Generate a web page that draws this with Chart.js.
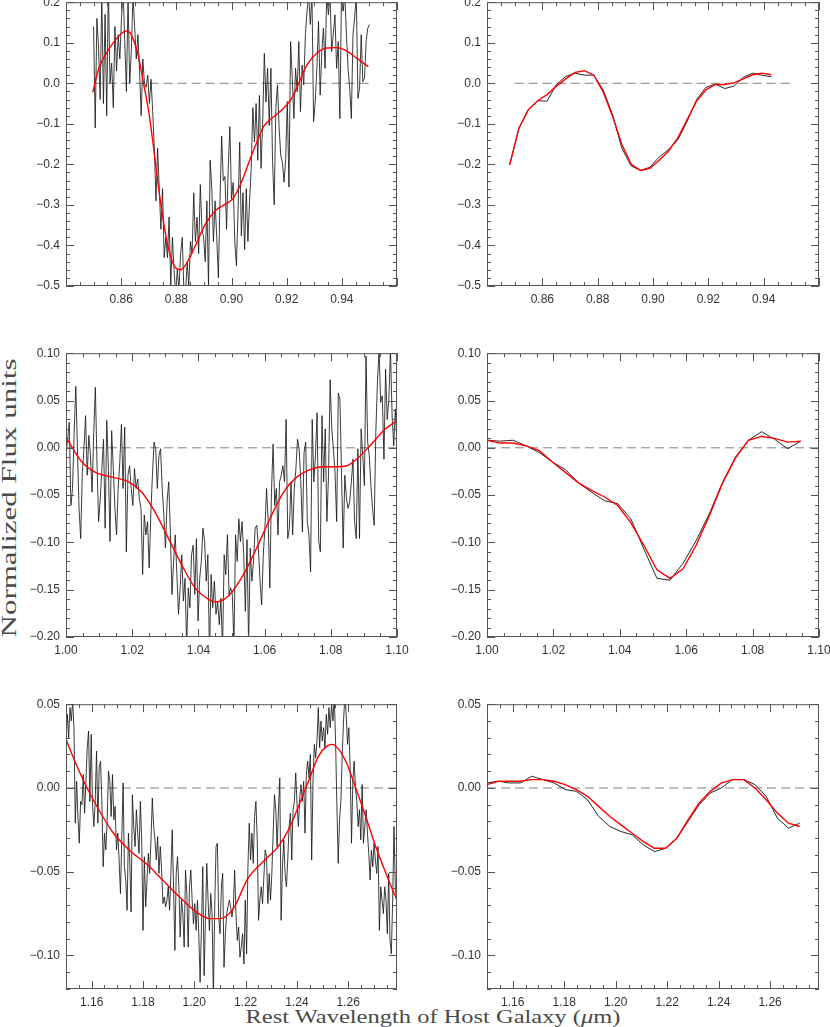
<!DOCTYPE html>
<html lang="en">
<head>
<meta charset="UTF-8">
<title>Normalized Flux Profiles</title>
<script src="https://cdn.jsdelivr.net/npm/chart.js"></script>
<style>
  body { margin: 0; background: #fff; width: 830px; height: 1027px; overflow: hidden; position: relative; }
  canvas { position: absolute; }
  .title { position: absolute; font-family: "Liberation Serif", "DejaVu Serif", serif; color: #4a4a4a; white-space: nowrap; }
</style>
</head>
<body>
<div id="ytitle" class="title" style="font-size:20px;line-height:20px">Normalized Flux units</div>
<div id="xtitle" class="title" style="font-size:19px;line-height:19px">Rest Wavelength of Host Galaxy (<i>&mu;</i>m)</div>
<script>
// ---- top row (0.85 - 0.95 um) ----
const topNoisyRange = [0.85, 0.95];
const topNoisyFlux = [
  0.14, -0.11, 0.16, 0.09, -0.04, 0.22, -0.05, 0.17, -0.08, 0.24,
  0.0, 0.05, -0.06, 0.14, 0.03, 0.12, 0.06, 0.16, 0.23, 0.1,
  -0.02, 0.21, 0.0, 0.08, 0.22, 0.14, 0.06, 0.12, 0.03, -0.08,
  0.06, 0.0, -0.01, 0.02, -0.05, 0.01, -0.07, -0.16,
  -0.29, -0.16, -0.26, -0.36, -0.26, -0.43, -0.38, -0.43, -0.33, -0.5,
  -0.38, -0.46, -0.52, -0.46, -0.51, -0.42, -0.38, -0.51, -0.52, -0.44,
  -0.5, -0.39, -0.42, -0.27, -0.39, -0.33, -0.42, -0.25, -0.36, -0.38,
  -0.44, -0.29, -0.5, -0.19, -0.26, -0.39, -0.29, -0.38, -0.48, -0.29,
  -0.13, -0.24, -0.23, -0.36, -0.21,
  -0.107, -0.285, -0.245, -0.39, -0.45, -0.31, -0.145, -0.376, -0.27, -0.41,
  -0.26, -0.39, -0.29, -0.21, -0.06, -0.145, -0.05, -0.19, -0.03, -0.21,
  -0.095, 0.074, -0.046, 0.037, -0.104, 0.037, -0.19, -0.30, -0.062, -0.004,
  -0.11, -0.178, -0.195, -0.244, -0.186, -0.045, -0.256, 0.103, 0.012, -0.087,
  0.037, -0.021, 0.103, -0.07, 0.045, -0.004, 0.12, 0.178, 0.22, 0.145,
  0.22, -0.095, -0.045, 0.037, 0.153, -0.029, 0.078, 0.136, 0.037, 0.22,
  0.169, 0.22, 0.078, 0.12, 0.169, 0.037, 0.103, -0.087, 0.22, 0.178,
  0.22, 0.12, 0.037, -0.012, -0.087, 0.12, 0.161, 0.22, -0.037, -0.012,
  0.12, 0.004, 0.012, 0.103, 0.136, 0.145
];
const topFitLambda = [0.8497, 0.8519, 0.8543, 0.8579, 0.8603, 0.8618, 0.8633, 0.8651, 0.8664, 0.8681,
  0.8700, 0.8718, 0.8736, 0.8754, 0.8772, 0.8797, 0.8815, 0.8839, 0.8869, 0.8906,
  0.8942, 0.8978, 0.9002, 0.9031, 0.9068, 0.9092, 0.9116, 0.9152, 0.9188, 0.9218,
  0.9249, 0.9273, 0.9309, 0.9345, 0.9381, 0.9417, 0.9454, 0.9496];
const topFitFlux = [-0.022, 0.037, 0.07, 0.107, 0.124, 0.129, 0.124, 0.095, 0.062, 0.0,
  -0.07, -0.161, -0.26, -0.343, -0.409, -0.455, -0.46, -0.442, -0.40, -0.347,
  -0.314, -0.298, -0.287, -0.252, -0.186, -0.145, -0.107, -0.083, -0.062, -0.037,
  0.008, 0.045, 0.074, 0.087, 0.088, 0.08, 0.062, 0.041];
const topBinRange = [0.8482, 0.9428];
const topBinFlux = [-0.2, -0.11, -0.065, -0.043, -0.044, -0.003, 0.017, 0.025, 0.02, 0.02,
  -0.016, -0.077, -0.16, -0.204, -0.215, -0.207, -0.182, -0.163, -0.139, -0.093,
  -0.04, -0.01, -0.002, -0.013, -0.007, 0.015, 0.025, 0.02, 0.016];
const topBinFit = [-0.202, -0.11, -0.065, -0.043, -0.028, -0.007, 0.011, 0.027, 0.031, 0.02,
  -0.021, -0.081, -0.151, -0.2, -0.215, -0.21, -0.19, -0.167, -0.134, -0.089,
  -0.044, -0.016, -0.003, -0.003, 0.001, 0.011, 0.021, 0.025, 0.021];
const topXTicks = [0.86, 0.88, 0.90, 0.92, 0.94];
const topYTicks = [-0.5, -0.4, -0.3, -0.2, -0.1, 0.0, 0.1, 0.2];

// ---- middle row (1.00 - 1.10 um) ----
const midNoisyRange = [1.00, 1.10];
const midNoisyFlux = [
  -0.008, 0.009, 0.027, -0.061, -0.043, 0.016, 0.065, -0.001, -0.064, -0.096,
  -0.026, -0.001, 0.034, -0.029, 0.013, -0.008, -0.047, 0.016, 0.064, -0.015,
  -0.078, -0.054, -0.022, 0.009, -0.085, 0.029, -0.022, -0.099, 0.018, -0.022,
  -0.064, -0.092, -0.043, -0.015, 0.025, -0.043, 0.022, -0.11, -0.029, -0.019,
  -0.043, -0.061, -0.022, -0.043, -0.033, -0.054, -0.064, -0.134, -0.071, -0.092,
  -0.078, -0.127, -0.071, -0.029, 0.006, -0.001, -0.043, -0.008, -0.001, -0.043,
  -0.071, -0.106, -0.057, -0.036, -0.089, -0.155, -0.12, -0.092, -0.134, -0.176,
  -0.148, -0.113, -0.162, -0.138, -0.21, -0.148, -0.169, -0.113, -0.103, -0.155,
  -0.096, -0.183, -0.138, -0.12, -0.085, -0.099, -0.141, -0.113, -0.22, -0.134,
  -0.169, -0.141, -0.176, -0.162, -0.187, -0.159, -0.215, -0.113, -0.134, -0.092,
  -0.155, -0.148,
  -0.155, -0.21, -0.092, -0.12, -0.075, -0.099, -0.078, -0.113, -0.173, -0.097,
  -0.21, -0.106, -0.141, -0.12, -0.085, -0.082, -0.106, -0.141, -0.166, -0.113,
  -0.085, -0.043, -0.078, -0.148, -0.047, 0.004, -0.061, -0.043, -0.092, -0.036,
  -0.029, -0.019, -0.036, 0.03, -0.096, -0.085, -0.036, -0.092, -0.043, -0.022,
  0.009, -0.001, -0.036, -0.089, -0.005, 0.006, -0.078, -0.092, -0.131, 0.03,
  -0.036, -0.008, 0.037, -0.099, -0.11, 0.034, -0.036, 0.02, -0.078, -0.029,
  0.072, 0.02, -0.001, -0.026, -0.078, 0.058, 0.051, -0.029, -0.106, -0.029,
  -0.054, -0.064, -0.057, -0.036, -0.012, -0.078, -0.096, -0.001, -0.096, 0.02,
  -0.008, -0.04, 0.097, 0.006, -0.008, -0.04, -0.064, -0.082, 0.016, 0.069,
  0.104, 0.048, 0.055, -0.012, 0.083, 0.03, 0.051, 0.104, 0.034, 0.002,
  0.041, 0.002
];
const midFitLambda = [1.0, 1.0048, 1.0089, 1.0139, 1.0189, 1.0229, 1.0269, 1.031, 1.035, 1.039,
  1.043, 1.045, 1.049, 1.0536, 1.0576, 1.0616, 1.0657, 1.0697, 1.0737, 1.0778,
  1.0818, 1.0848, 1.0878, 1.0918, 1.0959, 1.1];
const midFitFlux = [0.011, -0.015, -0.026, -0.031, -0.036, -0.047, -0.068, -0.096, -0.124, -0.148,
  -0.16, -0.163, -0.157, -0.134, -0.106, -0.075, -0.047, -0.031, -0.023, -0.02,
  -0.02, -0.019, -0.012, 0.002, 0.018, 0.029];
const midBinRange = [1.0, 1.0945];
const midBinFlux = [0.008, 0.007, 0.008, 0.002, -0.005, -0.015, -0.023, -0.037, -0.047, -0.056,
  -0.059, -0.075, -0.107, -0.138, -0.14, -0.122, -0.098, -0.07, -0.037, -0.01,
  0.008, 0.017, 0.009, -0.001, 0.007];
const midBinFit = [0.008, 0.005, 0.005, 0.002, -0.003, -0.015, -0.026, -0.037, -0.045, -0.052,
  -0.061, -0.079, -0.103, -0.129, -0.138, -0.128, -0.103, -0.072, -0.038, -0.011,
  0.008, 0.012, 0.01, 0.006, 0.007];
const midXTicks = [1.00, 1.02, 1.04, 1.06, 1.08, 1.10];
const midYTicks = [-0.20, -0.15, -0.10, -0.05, 0.00, 0.05, 0.10];

// ---- bottom row (1.15 - 1.28 um) ----
const botNoisyRange = [1.15, 1.2799];
const botNoisyFlux = [
  0.028, 0.044, 0.030, 0.048, 0.04, 0.052, 0.036, -0.021, 0.004, -0.017,
  -0.033, -0.008, -0.01, 0.008, -0.015, 0.004, 0.024, 0.034, -0.008, 0.032,
  -0.011, -0.023, -0.008, 0.022, -0.021, 0.012, 0.016, -0.008, -0.047, -0.027,
  -0.037, -0.019, 0.01, 0.004, -0.017, 0.008, -0.019, -0.011, -0.037, -0.027,
  -0.043, -0.063, -0.031, 0.003, -0.047, -0.055, -0.073, -0.027, -0.043, -0.074,
  -0.004, -0.023, -0.035, -0.013, -0.027, -0.039, -0.008, -0.031, -0.085, -0.041,
  -0.071, -0.055, -0.039, -0.051, -0.031, -0.006, -0.023, -0.031, -0.043, -0.029,
  -0.051, -0.035, -0.049, -0.069, -0.065, -0.071, -0.067, -0.059, -0.073, -0.051,
  -0.025, -0.059, -0.097, -0.051, -0.041, -0.059, -0.089, -0.067, -0.075, -0.095,
  -0.049, -0.063, -0.095, -0.059, -0.049, -0.067, -0.081, -0.069, -0.085, -0.067,
  -0.087, -0.116, -0.083, -0.047, -0.112, -0.079, -0.045, -0.067, -0.085, -0.063,
  -0.075, -0.125, -0.071, -0.035, -0.033, -0.077, -0.087, -0.059, -0.051, -0.107,
  -0.087, -0.075, -0.071, -0.067, -0.071, -0.077,
  -0.071, -0.049, -0.075, -0.091, -0.083, -0.101, -0.095, -0.087, -0.105, -0.067,
  -0.099, -0.047, -0.021, -0.043, -0.027, -0.045, -0.017, -0.008, -0.031, -0.079,
  -0.067, -0.059, -0.069, -0.053, -0.037, -0.041, -0.069, -0.051, -0.067, -0.051,
  -0.027, -0.004, -0.013, -0.035, -0.013, 0.006, -0.079, -0.047, -0.031, -0.051,
  -0.059, -0.043, -0.023, -0.015, -0.043, -0.013, -0.008, 0.009, -0.01, -0.023,
  -0.006, 0.002, -0.008, 0.004, -0.027, 0.008, 0.016, 0.006, 0.02, -0.043,
  0.004, 0.026, 0.018, 0.028, 0.048, 0.024, 0.04, 0.028, 0.036, 0.024,
  0.044, 0.032, 0.048, 0.036, 0.05, 0.04, 0.055, 0.028, -0.011, -0.045,
  -0.019, -0.008, 0.02, 0.04, 0.055, 0.044, 0.026, 0.036, 0.012, -0.033,
  0.004, 0.016, 0.0, -0.008, -0.023, -0.013, -0.031, 0.002, -0.033, -0.023,
  -0.013, -0.027, -0.039, -0.055, -0.037, -0.047, -0.033, -0.043, -0.051, -0.035,
  -0.085, -0.059, -0.067, -0.075, -0.059, -0.067, -0.087, -0.051, -0.091, -0.099,
  -0.067, -0.023, -0.059, -0.067, -0.125, -0.075
];
const botFitLambda = [1.15, 1.1537, 1.1582, 1.1628, 1.168, 1.1746, 1.1811, 1.1877, 1.1942, 1.2008,
  1.206, 1.2099, 1.2152, 1.2209, 1.2275, 1.2327, 1.2367, 1.2406, 1.2445, 1.2484,
  1.2517, 1.2537, 1.2563, 1.2596, 1.2629, 1.2668, 1.2707, 1.2747, 1.2795];
const botFitFlux = [0.029, 0.015, 0.0, -0.013, -0.026, -0.037, -0.045, -0.055, -0.065, -0.074,
  -0.078, -0.078, -0.072, -0.054, -0.043, -0.035, -0.025, -0.011, 0.004, 0.019,
  0.025, 0.026, 0.023, 0.014, 0.0, -0.017, -0.035, -0.051, -0.069];
const botBinRange = [1.15, 1.2715];
const botBinFlux = [0.003, 0.004, 0.003, 0.003, 0.007, 0.005, 0.003, -0.001, -0.002, -0.007,
  -0.017, -0.023, -0.026, -0.028, -0.034, -0.038, -0.036, -0.03, -0.02, -0.01,
  -0.003, 0.0, 0.005, 0.005, 0.002, -0.005, -0.018, -0.024, -0.021];
const botBinFit = [0.002, 0.004, 0.004, 0.004, 0.005, 0.005, 0.004, 0.002, -0.001, -0.005,
  -0.011, -0.017, -0.022, -0.027, -0.032, -0.036, -0.036, -0.03, -0.019, -0.009,
  -0.002, 0.003, 0.005, 0.005, 0.0, -0.007, -0.015, -0.021, -0.023];
const botXTicks = [1.16, 1.18, 1.20, 1.22, 1.24, 1.26];
const botYTicks = [-0.10, -0.05, 0.00, 0.05];

// ---- helpers ----
const spectrum = (range, flux) =>
  flux.map((f, i) => ({ x: range[0] + i * (range[1] - range[0]) / (flux.length - 1), y: f }));
const pairs = (lam, flux) => lam.map((l, i) => ({ x: l, y: flux[i] }));
const fmt = (v, d) => v.toFixed(d).replace('-', '\u2212');

const noisyLine = data => ({ data, borderColor: '#1a1a1a', borderWidth: 0.85, order: 1 });
const binLine = data => ({ data, borderColor: '#111', borderWidth: 0.9, order: 1 });
const fitLine = (data, smooth) => ({ data, borderColor: '#ff0000', borderWidth: 1.4, order: 0,
  cubicInterpolationMode: smooth ? 'monotone' : 'default' });
const zeroLine = (a, b) => ({ data: [{ x: a, y: 0 }, { x: b, y: 0 }], borderColor: '#808080',
  borderWidth: 1, borderDash: [9, 5], order: 2 });

// frame with inward major/minor ticks on all four sides, IDL style
const frameTicks = {
  id: 'frameTicks',
  afterDraw(chart, args, opts) {
    const { ctx, chartArea: a, scales: { x, y } } = chart;
    ctx.save();
    ctx.strokeStyle = '#555';
    ctx.lineWidth = 1;
    ctx.strokeRect(a.left + 0.5, a.top + 0.5, a.right - a.left - 1, a.bottom - a.top - 1);
    const marks = (scale, step, len, horiz) => {
      const first = Math.ceil(scale.min / step - 1e-6);
      ctx.beginPath();
      for (let k = first; k * step <= scale.max + 1e-9; k++) {
        const p = Math.round(scale.getPixelForValue(k * step)) + 0.5;
        if (horiz) {
          ctx.moveTo(p, a.bottom); ctx.lineTo(p, a.bottom - len);
          ctx.moveTo(p, a.top); ctx.lineTo(p, a.top + len);
        } else {
          ctx.moveTo(a.left, p); ctx.lineTo(a.left + len, p);
          ctx.moveTo(a.right, p); ctx.lineTo(a.right - len, p);
        }
      }
      ctx.stroke();
    };
    marks(x, opts.xMinor, 4, true);
    marks(x, opts.xMajor, 8, true);
    marks(y, opts.yMinor, 4, false);
    marks(y, opts.yMajor, 8, false);
    ctx.restore();
  }
};

const PAD = { l: 62, r: 22, t: 12, b: 32 };
const tickFont = { family: '"Liberation Sans", Arial, sans-serif', size: 12 };

function makePanel(box, p) {
  const canvas = document.createElement('canvas');
  const w = box.r - box.l + PAD.l + PAD.r;
  const h = box.b - box.t + PAD.t + PAD.b;
  canvas.width = w; canvas.height = h;
  canvas.style.left = (box.l - PAD.l) + 'px';
  canvas.style.top = (box.t - PAD.t) + 'px';
  canvas.style.width = w + 'px';
  canvas.style.height = h + 'px';
  document.body.appendChild(canvas);
  new Chart(canvas, {
    type: 'line',
    data: { datasets: p.datasets },
    options: {
      responsive: false,
      animation: false,
      devicePixelRatio: 1,
      layout: { padding: { left: 0, top: PAD.t, right: PAD.r, bottom: 0 } },
      elements: { point: { radius: 0 } },
      plugins: { legend: { display: false }, tooltip: { enabled: false }, frameTicks: p.steps },
      scales: {
        x: {
          type: 'linear', min: p.xRange[0], max: p.xRange[1],
          afterBuildTicks: s => { s.ticks = p.xTicks.map(v => ({ value: v })); },
          afterFit: s => { s.height = PAD.b; },
          grid: { display: false, drawTicks: false }, border: { display: false },
          ticks: { font: tickFont, color: '#333', padding: 6, maxRotation: 0, autoSkip: false,
                   callback: v => fmt(v, 2) }
        },
        y: {
          type: 'linear', min: p.yRange[0], max: p.yRange[1],
          afterBuildTicks: s => { s.ticks = p.yTicks.map(v => ({ value: v })); },
          afterFit: s => { s.width = PAD.l; },
          grid: { display: false, drawTicks: false }, border: { display: false },
          ticks: { font: tickFont, color: '#333', padding: 6, autoSkip: false,
                   callback: v => fmt(v, p.yDec) }
        }
      }
    },
    plugins: [frameTicks]
  });
}

const topSteps = { xMajor: 0.02, xMinor: 0.005, yMajor: 0.1, yMinor: 0.02 };
const lowSteps = { xMajor: 0.02, xMinor: 0.005, yMajor: 0.05, yMinor: 0.01 };

makePanel({ l: 66, r: 397, t: 1, b: 286 }, {
  xRange: [0.84, 0.96], yRange: [-0.5, 0.2], xTicks: topXTicks, yTicks: topYTicks, yDec: 1, steps: topSteps,
  datasets: [fitLine(pairs(topFitLambda, topFitFlux), true), noisyLine(spectrum(topNoisyRange, topNoisyFlux)), zeroLine(0.85, 0.95)]
});
makePanel({ l: 487, r: 819, t: 1, b: 286 }, {
  xRange: [0.84, 0.96], yRange: [-0.5, 0.2], xTicks: topXTicks, yTicks: topYTicks, yDec: 1, steps: topSteps,
  datasets: [fitLine(spectrum(topBinRange, topBinFit), false), binLine(spectrum(topBinRange, topBinFlux)), zeroLine(0.85, 0.95)]
});
makePanel({ l: 66, r: 397, t: 352, b: 637 }, {
  xRange: [1.00, 1.10], yRange: [-0.2, 0.1], xTicks: midXTicks, yTicks: midYTicks, yDec: 2, steps: lowSteps,
  datasets: [fitLine(pairs(midFitLambda, midFitFlux), true), noisyLine(spectrum(midNoisyRange, midNoisyFlux)), zeroLine(1.0, 1.1)]
});
makePanel({ l: 487, r: 819, t: 352, b: 637 }, {
  xRange: [1.00, 1.10], yRange: [-0.2, 0.1], xTicks: midXTicks, yTicks: midYTicks, yDec: 2, steps: lowSteps,
  datasets: [fitLine(spectrum(midBinRange, midBinFit), false), binLine(spectrum(midBinRange, midBinFlux)), zeroLine(1.0, 1.1)]
});
makePanel({ l: 66, r: 397, t: 703, b: 989 }, {
  xRange: [1.15, 1.279], yRange: [-0.12, 0.05], xTicks: botXTicks, yTicks: botYTicks, yDec: 2, steps: lowSteps,
  datasets: [fitLine(pairs(botFitLambda, botFitFlux), true), noisyLine(spectrum(botNoisyRange, botNoisyFlux)), zeroLine(1.15, 1.279)]
});
makePanel({ l: 487, r: 819, t: 703, b: 989 }, {
  xRange: [1.15, 1.279], yRange: [-0.12, 0.05], xTicks: botXTicks, yTicks: botYTicks, yDec: 2, steps: lowSteps,
  datasets: [fitLine(spectrum(botBinRange, botBinFit), false), binLine(spectrum(botBinRange, botBinFlux)), zeroLine(1.15, 1.279)]
});

// axis titles: stretch to the widths seen in the figure
function placeTitle(id, cx, cy, targetW, rotate) {
  const el = document.getElementById(id);
  const k = targetW / el.getBoundingClientRect().width;
  el.style.left = cx + 'px';
  el.style.top = cy + 'px';
  el.style.transform = 'translate(-50%, -50%)' + (rotate ? ' rotate(-90deg)' : '') + ' scaleX(' + k + ')';
}
placeTitle('ytitle', 8.5, 497.5, 279, true);
placeTitle('xtitle', 432.5, 1016.3, 375, false);
</script>
</body>
</html>
